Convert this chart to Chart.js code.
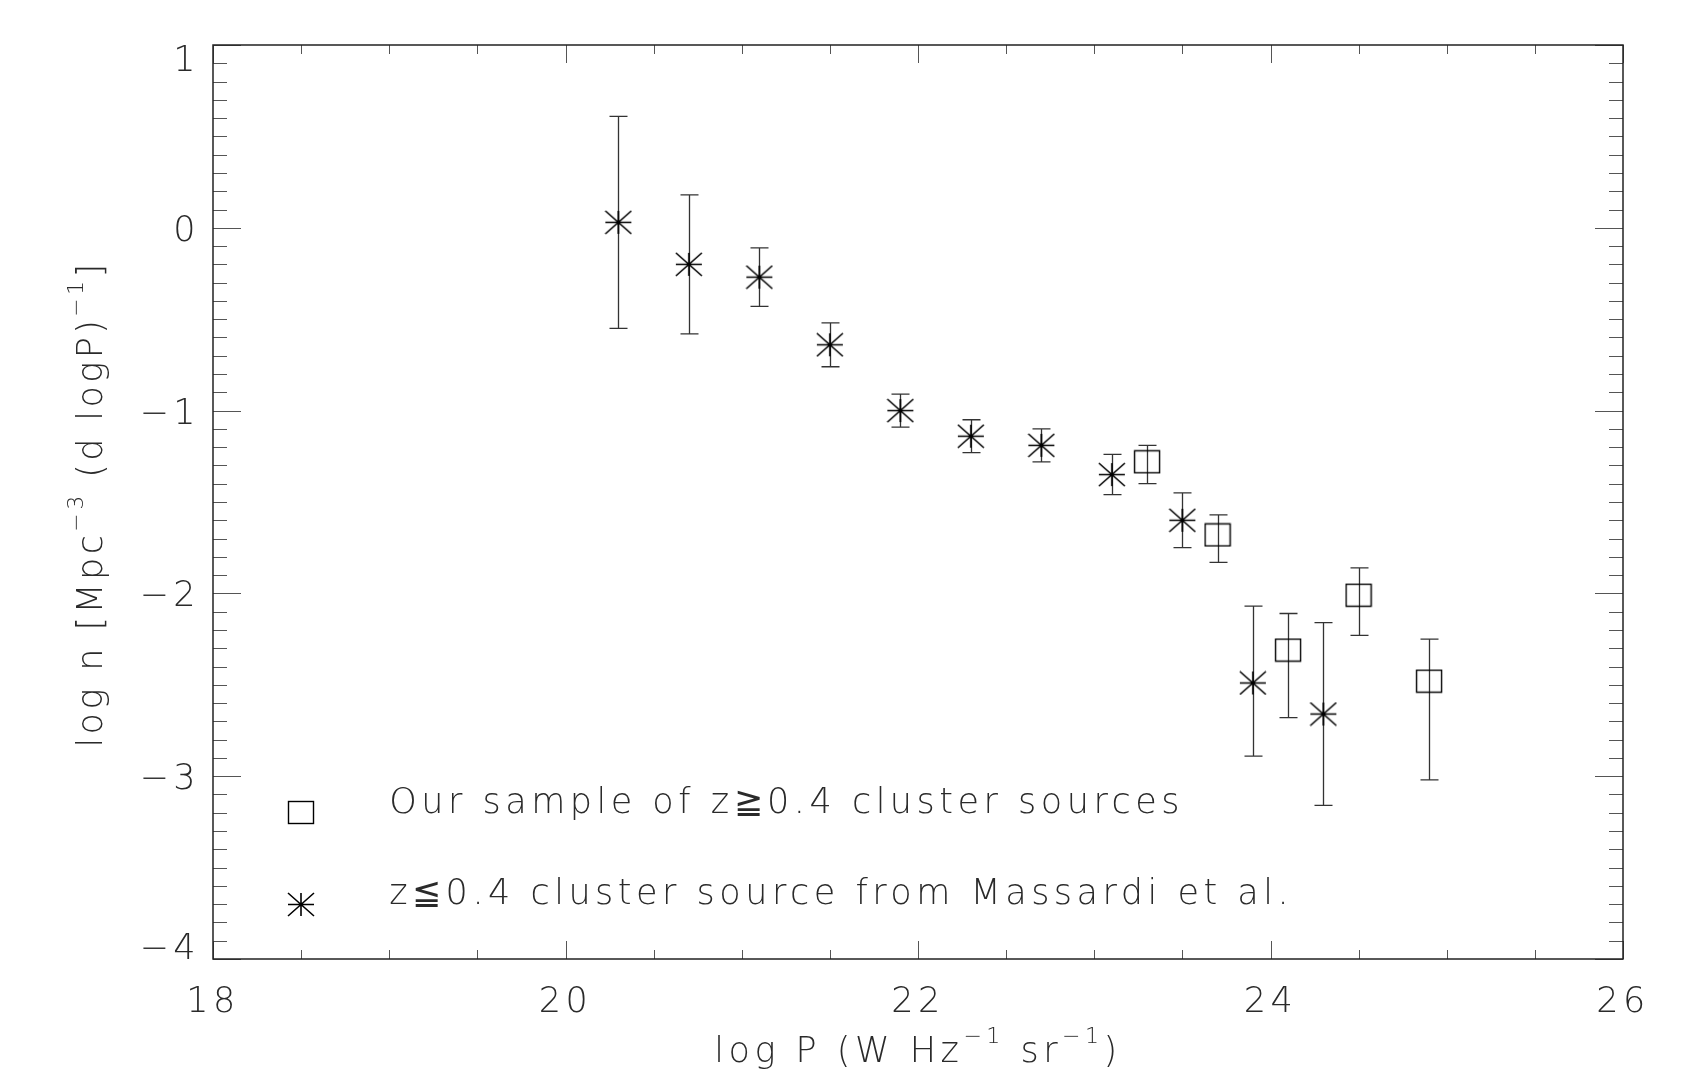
<!DOCTYPE html>
<html>
<head>
<meta charset="utf-8">
<script src="https://cdn.jsdelivr.net/npm/chart.js@4.4.1/dist/chart.umd.min.js"></script>
<style>
    html, body { margin: 0; padding: 0; background: #fff; }
</style>
</head>
<body>
<canvas id="lumfunc" width="1703" height="1069"></canvas>
<script>
const FONT = 'DejaVu Sans'
const TEXT_COLOR = '#2a2a2a'
const LETTER_GAP = '4.5px'

const xTickLabels = [18, 20, 22, 24, 26]
const yTickLabels = [-4, -3, -2, -1, 0, 1]

// z <= 0.4 cluster sources (Massardi et al.)
const massX  = [20.3, 20.7, 21.1, 21.5, 21.9, 22.3, 22.7, 23.1, 23.5, 23.9, 24.3]
const massY  = [0.03, -0.20, -0.27, -0.64, -1.00, -1.14, -1.19, -1.35, -1.60, -2.49, -2.66]
const massHi = [0.61, 0.18, -0.11, -0.52, -0.91, -1.05, -1.10, -1.24, -1.45, -2.07, -2.16]
const massLo = [-0.55, -0.58, -0.43, -0.76, -1.09, -1.23, -1.28, -1.46, -1.75, -2.89, -3.16]

// z >= 0.4 cluster sources (our sample)
const oursX  = [23.3, 23.7, 24.1, 24.5, 24.9]
const oursY  = [-1.28, -1.68, -2.31, -2.01, -2.48]
const oursHi = [-1.19, -1.57, -2.11, -1.86, -2.25]
const oursLo = [-1.40, -1.83, -2.68, -2.23, -3.02]

const legendLabels = ['Our sample of z≧0.4 cluster sources', 'z≦0.4 cluster source from Massardi et al.']

// axis titles as [text, isSuperscript] runs
const xTitle = [['log P (W Hz', false], ['\u22121', true], [' sr', false], ['\u22121', true], [')', false]]
const yTitle = [['log n [Mpc', false], ['\u22123', true], [' (d logP)', false], ['\u22121', true], [']', false]]

// symbols are drawn once into small canvases and used as pointStyle
function symbolCanvas(kind) {
    var c = document.createElement('canvas')
    c.width = 28
    c.height = 25
    var g = c.getContext('2d')
    g.strokeStyle = '#000'
    if (kind == 'square') {
        g.lineWidth = 1.4
        g.strokeRect(1.5, 1.5, 25, 22)
    } else {
        var cx = 14, cy = 12.5, hx = 13, hy = 11.5
        g.lineWidth = 1.6
        g.beginPath()
        g.moveTo(cx - hx, cy); g.lineTo(cx + hx, cy)
        g.moveTo(cx, cy - hy); g.lineTo(cx, cy + hy)
        g.moveTo(cx - hx, cy - hy); g.lineTo(cx + hx, cy + hy)
        g.moveTo(cx - hx, cy + hy); g.lineTo(cx + hx, cy - hy)
        g.stroke()
    }
    return c
}

const squareSym = symbolCanvas('square')
const starSym = symbolCanvas('star')

function toPoints(xs, ys) {
    return xs.map((x, i) => ({x: x, y: ys[i]}))
}

function fmtNum(v) {
    return v < 0 ? '\u2212' + Math.abs(v) : String(v)
}

const BASE_FONT = '200 35px "' + FONT + '"'
const SUP_FONT = '200 22px "' + FONT + '"'

// draws a run of text with raised superscripts, centred on (0, 0) of the current transform
function drawRich(ctx, runs) {
    var widths = runs.map(r => {
        ctx.font = r[1] ? SUP_FONT : BASE_FONT
        return ctx.measureText(r[0]).width
    })
    var total = widths.reduce((a, b) => a + b, 0)
    var x = -total / 2
    runs.forEach((r, i) => {
        ctx.font = r[1] ? SUP_FONT : BASE_FONT
        ctx.fillText(r[0], x, r[1] ? -19 : 0)
        x += widths[i]
    })
}

// wide letter spacing for every text drawn on the canvas
const spacing = {
    id: 'spacing',
    beforeDraw(chart) {
        chart.ctx.letterSpacing = LETTER_GAP
    }
}

// vertical error bars with caps, under the symbols
const errorBars = {
    id: 'errorBars',
    beforeDatasetsDraw(chart) {
        const ctx = chart.ctx
        const xs = chart.scales.x, ys = chart.scales.y
        const cap = 9
        ctx.save()
        ctx.strokeStyle = '#333'
        ctx.lineWidth = 1.3
        chart.data.datasets.forEach(ds => {
            ds.data.forEach((p, i) => {
                const px = Math.round(xs.getPixelForValue(p.x)) + 0.5
                const top = ys.getPixelForValue(ds.errHi[i])
                const bot = ys.getPixelForValue(ds.errLo[i])
                ctx.beginPath()
                ctx.moveTo(px, top); ctx.lineTo(px, bot)
                ctx.moveTo(px - cap, top); ctx.lineTo(px + cap, top)
                ctx.moveTo(px - cap, bot); ctx.lineTo(px + cap, bot)
                ctx.stroke()
            })
        })
        ctx.restore()
    }
}

// box frame, inward ticks on all four sides, y labels, titles, legend
const frame = {
    id: 'frame',
    afterDraw(chart) {
        const ctx = chart.ctx
        const a = chart.chartArea
        const xs = chart.scales.x, ys = chart.scales.y
        ctx.save()
        ctx.letterSpacing = LETTER_GAP

        ctx.strokeStyle = '#555'
        ctx.lineWidth = 1
        for (let k = 0; k <= (xs.max - xs.min) / 0.5; k++) {
            const v = xs.min + k * 0.5
            const px = Math.round(xs.getPixelForValue(v)) + 0.5
            const len = (v % 2 == 0) ? 18 : 9
            ctx.beginPath()
            ctx.moveTo(px, a.bottom); ctx.lineTo(px, a.bottom - len)
            ctx.moveTo(px, a.top); ctx.lineTo(px, a.top + len)
            ctx.stroke()
        }
        for (let k = 0; k <= Math.round((ys.max - ys.min) / 0.1); k++) {
            const v = ys.min + k * 0.1
            const py = Math.round(ys.getPixelForValue(v)) + 0.5
            const len = (k % 10 == 0) ? 28 : 14
            ctx.beginPath()
            ctx.moveTo(a.left, py); ctx.lineTo(a.left + len, py)
            ctx.moveTo(a.right, py); ctx.lineTo(a.right - len, py)
            ctx.stroke()
        }

        ctx.strokeStyle = '#222'
        ctx.lineWidth = 1.5
        ctx.strokeRect(a.left, a.top, a.right - a.left, a.bottom - a.top)

        // y labels, the end ones kept inside the axis range
        ctx.fillStyle = TEXT_COLOR
        ctx.font = BASE_FONT
        ctx.textAlign = 'right'
        ctx.textBaseline = 'alphabetic'
        const half = 13
        yTickLabels.forEach(v => {
            let py = ys.getPixelForValue(v)
            py = Math.max(a.top + half, Math.min(a.bottom - half, py))
            ctx.fillText(fmtNum(v), a.left - 13, py + half)
        })

        // axis titles
        ctx.textAlign = 'left'
        ctx.save()
        ctx.translate((a.left + a.right) / 2, 1062)
        drawRich(ctx, xTitle)
        ctx.restore()
        ctx.save()
        ctx.letterSpacing = '3.4px'
        ctx.translate(102, (a.top + a.bottom) / 2 + 2)
        ctx.rotate(-Math.PI / 2)
        drawRich(ctx, yTitle)
        ctx.restore()

        // legend inside the plot
        const syms = [squareSym, starSym]
        const ly = [-3.2, -3.7]
        ctx.font = BASE_FONT
        legendLabels.forEach((txt, i) => {
            const sx = xs.getPixelForValue(18.5)
            const sy = ys.getPixelForValue(ly[i])
            ctx.drawImage(syms[i], Math.round(sx - syms[i].width / 2), Math.round(sy - syms[i].height / 2))
            ctx.fillText(txt, xs.getPixelForValue(19.0), sy)
        })
        ctx.restore()
    }
}

const tickFont = {family: FONT, size: 35, weight: '200'}

const config = {
    type: 'scatter',
    data: {
        datasets: [{
            label: legendLabels[0],
            data: toPoints(oursX, oursY),
            errHi: oursHi,
            errLo: oursLo,
            pointStyle: squareSym,
            pointRadius: 12,
            showLine: false
        }, {
            label: legendLabels[1],
            data: toPoints(massX, massY),
            errHi: massHi,
            errLo: massLo,
            pointStyle: starSym,
            pointRadius: 12,
            showLine: false
        }]
    },
    options: {
        responsive: false,
        devicePixelRatio: 1,
        animation: false,
        layout: {
            padding: {left: 0, right: 80, top: 45, bottom: 0}
        },
        plugins: {
            legend: {display: false},
            tooltip: {enabled: false}
        },
        scales: {
            x: {
                type: 'linear',
                min: 18,
                max: 26,
                afterBuildTicks: function(scale) {
                    scale.ticks = xTickLabels.map(v => ({value: v}))
                },
                afterFit: function(scale) {
                    scale.height = 110
                },
                grid: {display: false, drawTicks: false},
                border: {display: false},
                ticks: {
                    font: tickFont,
                    color: TEXT_COLOR,
                    padding: 23,
                    maxRotation: 0,
                    autoSkip: false
                }
            },
            y: {
                type: 'linear',
                min: -4,
                max: 1,
                afterBuildTicks: function(scale) {
                    scale.ticks = yTickLabels.map(v => ({value: v}))
                },
                afterFit: function(scale) {
                    scale.width = 213
                },
                grid: {display: false, drawTicks: false},
                border: {display: false},
                ticks: {display: false}
            }
        }
    },
    plugins: [spacing, errorBars, frame]
}

const lumChart = new Chart(document.getElementById('lumfunc'), config)
</script>
</body>
</html>
